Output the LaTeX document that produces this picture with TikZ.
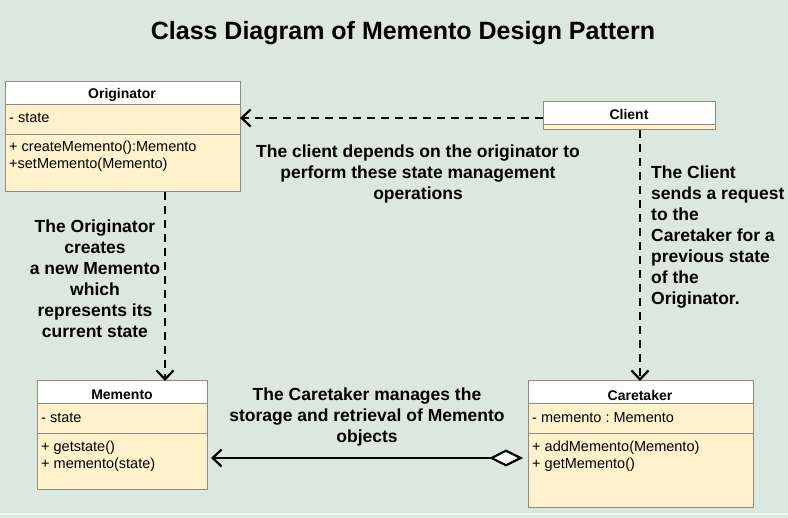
\documentclass[tikz,border=0pt]{standalone}
\usepackage{fontspec}
\setmainfont{Liberation Sans}
\usetikzlibrary{arrows.meta}
\frenchspacing
\definecolor{bgc}{HTML}{DCE7E0}
\definecolor{boxfill}{HTML}{FFF2CC}
\definecolor{boxline}{HTML}{8C8C80}
\tikzset{
  hdr/.style={draw=boxline, fill=white, line width=1pt},
  body/.style={draw=boxline, fill=boxfill, line width=1pt},
  ctitle/.style={font=\fontsize{14}{16}\selectfont\bfseries, anchor=center},
  ctext/.style={font=\fontsize{14.5}{17}\selectfont, anchor=west, align=left, inner sep=0pt},
  note/.style={font=\fontsize{17.5}{21}\selectfont\bfseries, align=center, inner sep=0pt},
  openhead/.tip={Straight Barb[length=9pt,width=17pt,line width=2.2pt]},
  dep/.style={dash pattern=on 8pt off 6pt, line width=2.2pt, -{openhead}},
}
\begin{document}
\begin{tikzpicture}[x=1pt,y=-1pt]
\fill[bgc] (0,0) rectangle (788,518);
\useasboundingbox (0,0) rectangle (788,518);
\draw[white!70!bgc, line width=2pt] (0,514) -- (788,514);

\node[font=\fontsize{25}{29}\selectfont\bfseries] (title) at (403,33) {Class Diagram of Memento Design Pattern};

% Originator
\draw[body] (5,105) rectangle (240,192);
\draw[body] (5,105) -- (5,135) -- (240,135);
\draw[hdr] (5,82) rectangle (240,105);
\node[ctitle] (orig) at (122,95) {Originator};
\node[ctext] (origA) at (9,118) {- state};
\node[ctext] (origM1) at (9,148) {+ createMemento():Memento};
\node[ctext] (origM2) at (9,165) {+setMemento(Memento)};
\coordinate (origR) at (240,118);
\coordinate (origB) at (165,192);

% Client
\draw[body] (543,125) rectangle (715,130);
\draw[hdr] (543,102) rectangle (715,125);
\node[ctitle] (client) at (629,115) {Client};
\coordinate (clientL) at (543,118);
\coordinate (clientB) at (640,130);

% Memento
\draw[body] (37,404) rectangle (207,490);
\draw[boxline, line width=1pt] (37,434) -- (207,434);
\draw[hdr] (37,381) rectangle (207,404);
\node[ctitle] (mem) at (122,395) {Memento};
\node[ctext] (memA) at (41,418) {- state};
\node[ctext] (memM1) at (41,448) {+ getstate()};
\node[ctext] (memM2) at (41,465) {+ memento(state)};
\coordinate (memR) at (211,458);
\coordinate (memT) at (165,381);

% Caretaker
\draw[body] (528,404) rectangle (753,508);
\draw[boxline, line width=1pt] (528,434) -- (753,434);
\draw[hdr] (528,381) rectangle (753,404);
\node[ctitle] (care) at (640,395) {Caretaker};
\node[ctext] (careA) at (532,418) {- memento : Memento};
\node[ctext] (careM1) at (532,448) {+ addMemento(Memento)};
\node[ctext] (careM2) at (532,465) {+ getMemento()};
\coordinate (careL) at (523,458);
\coordinate (careT) at (640,381);

% connectors
\draw[dep] (clientL) -- (origR);
\draw[dep] (origB) -- (memT);
\draw[dep] (clientB) -- (careT);
\draw[line width=2.2pt, {openhead}-{Diamond[open,length=34pt,width=17pt,line width=2.2pt,fill=white]}] (memR) -- (careL);

% notes
\node[note] (n1) at (418,174) {The client depends on the originator to\\perform these state management\\operations};
\node[note] (n2) at (95,279) {The Originator\\creates\\a new Memento\\which\\represents its\\current state};
\node[note, align=left, anchor=north west] (n3) at (651,166) {The Client\\sends a request\\to the\\Caretaker for a\\previous state\\of the\\Originator.};
\node[note] (n4) at (367,417) {The Caretaker manages the\\storage and retrieval of Memento\\objects};
\end{tikzpicture}
\end{document}
